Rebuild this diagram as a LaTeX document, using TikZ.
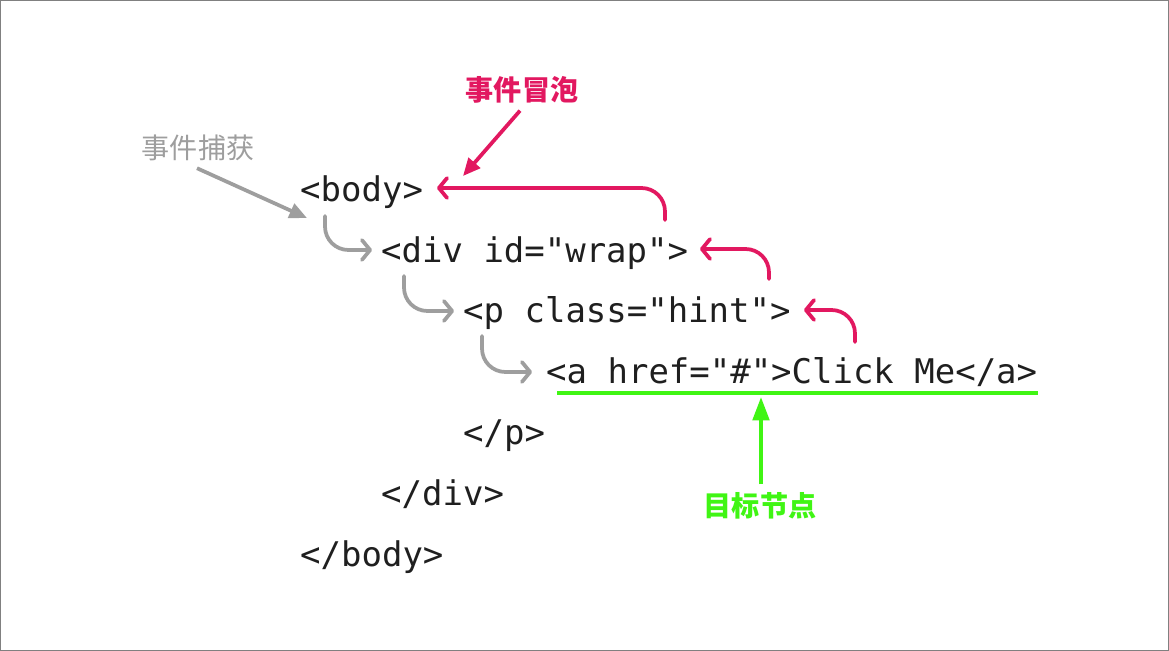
\documentclass[tikz,border=0pt]{standalone}
\usepackage{fontspec}
\setmonofont{DejaVu Sans Mono}
\newfontfamily\cjk{Noto Sans CJK SC}
\usetikzlibrary{arrows.meta}
\definecolor{bubblered}{RGB}{226,24,96}
\definecolor{capgray}{RGB}{158,158,158}
\definecolor{targetgreen}{RGB}{64,245,20}
\begin{document}
\begin{tikzpicture}[x=0.03cm,y=-0.03cm]
      \tikzstyle{codeline}=[anchor=base west,inner sep=0pt,text=black!88,font=\ttfamily\fontsize{29}{30}\selectfont]
      \tikzstyle{tag}=[inner sep=0pt,font=\cjk\bfseries\fontsize{24}{26}\selectfont]
      \tikzstyle{hook}=[line width=3.2pt,line cap=round,rounded corners=20,-{Straight Barb[length=7pt,width=17pt,round]}]
      \tikzstyle{pointer}=[line width=3.2pt,-{Triangle[length=15pt,width=13pt]}]
      \useasboundingbox (0,0) rectangle (1169,651);
      \draw[black!50,line width=1.2pt] (0.6,0.6) rectangle (1168.4,650.4);
      % the markup
      \node[codeline] (body) at (300,202) {<body>};
      \node[codeline] (div) at (381,263) {<div id="wrap">};
      \node[codeline] (p) at (463,322) {<p class="hint">};
      \node[codeline] (a) at (546,383) {<a href="\#">Click Me</a>};
      \node[codeline] (pend) at (463,444) {</p>};
      \node[codeline] (divend) at (381,505) {</div>};
      \node[codeline] (bodyend) at (300,566) {</body>};
      % labels
      \node[tag,text=capgray,font=\cjk\mdseries\fontsize{24}{26}\selectfont] (capture) at (198,148) {事件捕获};
      \node[tag,text=bubblered] (bubble) at (522,90) {事件冒泡};
      \node[tag,text=targetgreen] (target) at (760,506) {目标节点};
      % ends of the connectors
      \coordinate (captip) at (307,218);
      \coordinate (bubtip) at (463,176);
      \coordinate (goal) at (761,397);
      \coordinate (c1) at (325,216);  \coordinate (c1e) at (372,250);
      \coordinate (c2) at (404,276);  \coordinate (c2e) at (454,311);
      \coordinate (c3) at (482,336);  \coordinate (c3e) at (532,372);
      \coordinate (b1) at (665,220);  \coordinate (b1e) at (437,188);
      \coordinate (b2) at (769,279);  \coordinate (b2e) at (700,249);
      \coordinate (b3) at (855,342);  \coordinate (b3e) at (804,310);
      \coordinate (ul1) at (557,393); \coordinate (ul2) at (1038,393);
      % capture
      \draw[pointer,capgray] ([shift={(-1,7)}]capture.south) -- (captip);
      \draw[hook,capgray] (c1) |- (c1e);
      \draw[hook,capgray] (c2) |- (c2e);
      \draw[hook,capgray] (c3) |- (c3e);
      % bubbling
      \draw[pointer,bubblered] ([shift={(-2,7)}]bubble.south) -- (bubtip);
      \draw[hook,bubblered] (b1) |- (b1e);
      \draw[hook,bubblered] (b2) |- (b2e);
      \draw[hook,bubblered] (b3) |- (b3e);
      % target
      \draw[targetgreen,line width=3.4pt] (ul1) -- (ul2);
      \draw[targetgreen,line width=3.4pt,-{Triangle[length=20pt,width=14pt]}] ([shift={(1,-8)}]target.north) -- (goal);
\end{tikzpicture}
\end{document}
